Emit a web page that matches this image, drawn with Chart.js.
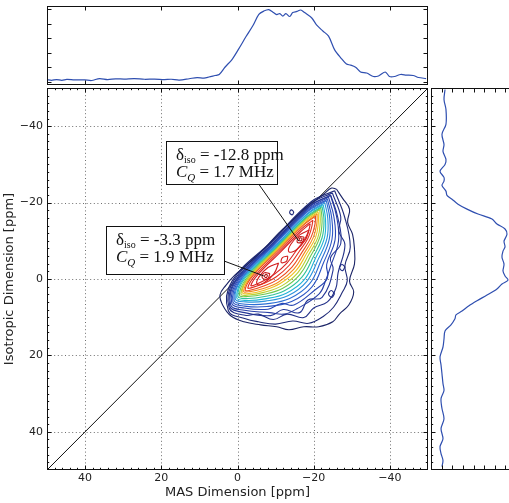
<!DOCTYPE html>
<html>
<head>
<meta charset="utf-8">
<script src="https://cdn.jsdelivr.net/npm/chart.js@4.4.0/dist/chart.umd.min.js"></script>
<style>
html, body { margin: 0; padding: 0; background: #fff; overflow: hidden; width: 509px; height: 503px; }
canvas { position: absolute; }
</style>
</head>
<body>
<canvas id="main" width="430" height="503" style="left:0;top:0"></canvas>
<canvas id="top" width="430" height="90" style="left:0;top:0"></canvas>
<canvas id="side" width="85" height="503" style="left:431px;top:0"></canvas>
<script>
// axis ticks (ppm)
const majorTicks = [-40, -20, 0, 20, 40];

// contour levels, [MAS ppm, isotropic ppm], outermost first
const lvl01 = [[-26.0,-23.5],[-27.6,-21.1],[-29.4,-18.3],[-28.9,-14.9],[-30.2,-11.7],[-30.7,-7.8],[-30.7,-3.9],[-29.4,0.5],[-30.5,3.4],[-29.2,6.8],[-26.8,9.1],[-25.0,11.2],[-21.3,12.5],[-17.4,12.5],[-13.5,13.3],[-10.3,12.5],[-6.1,12.0],[-1.7,11.2],[1.7,9.7],[3.8,7.0],[4.6,4.2],[3.0,1.6],[0.7,-1.0],[-3.0,-4.2],[-6.9,-7.8],[-10.8,-12.0],[-14.8,-15.7],[-18.7,-19.3],[-22.6,-22.2],[-24.7,-23.8]];
const lvl02 = [[-25.5,-23.1],[-28.1,-16.3],[-29.6,-8.4],[-28.2,-3.5],[-28.8,0.5],[-27.5,3.5],[-25.2,7.4],[-22.5,9.8],[-18.7,11.6],[-14.5,11.0],[-10.0,11.8],[-5.5,11.2],[-2.1,10.4],[2.4,8.3],[1.4,0.5],[-9.0,-9.9],[-19.4,-20.3]];
const lvl03 = [[-24.9,-22.5],[-27.1,-16.3],[-26.6,-12.5],[-28.2,-8.9],[-26.4,-1.6],[-25.8,2.5],[-23.6,6.0],[-20.0,7.6],[-17.4,10.1],[-13.0,9.2],[-9.4,10.6],[-5.5,9.2],[-2.0,9.5],[2.2,7.6],[0.9,0.3],[-9.1,-9.7],[-19.1,-19.7]];
const lvl04 = [[-24.5,-21.9],[-26.3,-16.2],[-27.1,-9.3],[-24.4,-5.5],[-25.1,-2.4],[-22.2,4.8],[-18.5,5.5],[-16.3,8.8],[-12.0,8.0],[-8.7,9.6],[-1.9,8.8],[2.0,7.2],[0.5,0.3],[-9.2,-9.4],[-18.9,-19.1]];
const lvl05 = [[-24.4,-21.9],[-26.0,-16.4],[-26.5,-9.9],[-24.4,-3.2],[-23.2,0.2],[-21.5,3.8],[-15.6,7.8],[-12.2,9.2],[-8.4,8.8],[-1.8,8.2],[1.8,6.8],[0.2,0.2],[-9.4,-9.4],[-19.0,-19.0]];
const lvl06 = [[-23.9,-21.4],[-25.3,-16.3],[-25.6,-10.2],[-23.4,-3.8],[-23.6,-0.2],[-20.4,2.8],[-14.8,6.8],[-11.5,6.4],[-8.0,7.9],[-1.8,7.6],[1.5,6.4],[-0.2,0.1],[-9.5,-9.2],[-18.8,-18.5]];
const lvl07 = [[-23.6,-20.9],[-24.7,-16.2],[-24.8,-10.4],[-22.6,-4.3],[-19.6,2.0],[-14.2,5.9],[-7.7,7.2],[-1.9,7.1],[1.2,6.0],[-0.6,0.0],[-9.6,-9.1],[-18.7,-18.1]];
const lvl08 = [[-23.3,-20.5],[-24.2,-16.0],[-24.1,-10.5],[-21.9,-4.8],[-18.9,1.3],[-13.7,5.1],[-7.5,6.5],[-2.1,6.6],[0.9,5.6],[-1.0,-0.1],[-9.7,-8.9],[-18.5,-17.7]];
const lvl09 = [[-22.9,-20.0],[-23.7,-15.8],[-23.5,-10.7],[-21.2,-5.2],[-18.2,0.6],[-13.2,4.4],[-7.3,5.8],[-2.2,6.0],[0.6,5.2],[-1.3,-0.2],[-9.9,-8.7],[-18.4,-17.2]];
const lvl10 = [[-22.5,-19.5],[-23.1,-15.6],[-22.8,-10.7],[-20.5,-5.5],[-17.6,0.1],[-12.8,3.7],[-7.2,5.2],[-2.3,5.6],[0.2,4.9],[-1.7,-0.3],[-10.0,-8.5],[-18.2,-16.8]];
const lvl11 = [[-22.2,-19.0],[-22.7,-15.3],[-22.2,-10.8],[-19.9,-5.8],[-16.9,-0.5],[-12.3,3.1],[-7.1,4.6],[-2.5,5.1],[-0.1,4.5],[-2.1,-0.4],[-10.1,-8.3],[-18.1,-16.3]];
const lvl12 = [[-21.9,-18.5],[-22.2,-15.1],[-21.6,-10.9],[-19.3,-6.2],[-16.3,-1.1],[-11.9,2.4],[-7.0,4.0],[-2.7,4.6],[-0.5,4.2],[-2.5,-0.4],[-10.2,-8.2],[-17.9,-15.9]];
const lvl13 = [[-21.6,-18.1],[-21.7,-14.9],[-21.1,-10.9],[-18.7,-6.4],[-15.8,-1.6],[-11.6,1.8],[-6.9,3.5],[-2.9,4.2],[-0.9,3.9],[-2.9,-0.5],[-10.3,-8.0],[-17.8,-15.5]];
const lvl14 = [[-21.2,-17.5],[-21.2,-14.6],[-20.5,-10.9],[-18.1,-6.6],[-15.3,-2.1],[-11.2,1.2],[-6.8,3.0],[-3.1,3.8],[-1.2,3.5],[-3.2,-0.6],[-10.4,-7.8],[-17.6,-15.0]];
const lvl15 = [[-20.9,-17.0],[-20.8,-14.4],[-19.9,-10.9],[-17.6,-6.9],[-14.8,-2.6],[-10.9,0.7],[-6.8,2.5],[-3.3,3.3],[-1.6,3.2],[-3.6,-0.7],[-10.5,-7.6],[-17.5,-14.5]];
const lvl16 = [[-20.5,-16.5],[-20.3,-14.1],[-19.3,-10.9],[-17.0,-7.1],[-14.3,-3.1],[-10.6,0.1],[-6.7,1.9],[-3.5,2.9],[-2.0,2.9],[-4.0,-0.8],[-10.6,-7.4],[-17.3,-14.1]];
const lvl17 = [[-19.8,-15.4],[-19.4,-13.3],[-18.4,-10.5],[-16.2,-7.2],[-13.6,-3.6],[-10.2,-0.6],[-6.8,1.2],[-4.0,2.2],[-2.7,2.3],[-4.7,-1.0],[-10.8,-7.1],[-16.8,-13.1]];
const lvl18 = [[-19.1,-14.5],[-18.7,-12.7],[-17.6,-10.3],[-15.4,-7.4],[-12.9,-4.1],[-9.9,-1.4],[-7.0,0.4],[-4.6,1.5],[-3.5,1.7],[-5.4,-1.2],[-11.0,-6.8],[-16.5,-12.3]];
const lvl19a = [[-18.8,-12.8],[-17.8,-10.2],[-15.4,-7.6],[-13.5,-7.1],[-14.0,-9.1],[-16.4,-11.6]];
const lvl19b = [[-10.8,-4.2],[-9.6,-1.4],[-7.0,1.0],[-5.2,1.4],[-5.6,-0.5],[-8.0,-3.0]];
const lvl19c = [[-13.2,-6.0],[-12.9,-4.7],[-11.5,-4.3],[-11.8,-5.6]];
const lvl20a = [[-17.5,-11.0],[-17.0,-9.7],[-15.7,-9.6],[-16.1,-11.0]];
const lvl20b = [[-8.5,-1.4],[-7.9,0.0],[-6.5,-0.3],[-7.0,-1.6]];
const lvl21a = [[-17.0,-10.6],[-16.7,-10.0],[-16.2,-10.2],[-16.5,-10.8]];
const lvl21b = [[-7.9,-1.0],[-7.6,-0.4],[-7.1,-0.6],[-7.4,-1.2]];
const island1 = [[-14.8,-17.6],[-14.4,-16.8],[-13.7,-17.3],[-14.1,-18.1]];
const island2 = [[-25.5,3.8],[-24.8,4.8],[-23.9,4.0],[-24.6,3.0]];
const island3 = [[-28.2,-3.2],[-27.6,-2.2],[-26.8,-2.9],[-27.4,-3.8]];

const contourSets = [lvl01, lvl02, lvl03, lvl04, lvl05, lvl06, lvl07, lvl08, lvl09, lvl10,
  lvl11, lvl12, lvl13, lvl14, lvl15, lvl16, lvl17, lvl18, lvl19a, lvl19b, lvl19c,
  lvl20a, lvl20b, lvl21a, lvl21b, island1, island2, island3];
const contourColors = ['#1b2466', '#1f2a78', '#223088', '#253797', '#283fa6', '#2a48b4', '#2c56c4', '#2c6fd4',
  '#2a92dc', '#22b4d6', '#30c29a', '#6cc850', '#b8d030', '#f0c020', '#f48a1e', '#ec4a1e',
  '#e23020', '#d82222', '#d01c1c', '#d01c1c', '#d01c1c', '#c41818', '#c41818', '#b01414', '#b01414',
  '#1f2a78', '#223088', '#223088'];

// diagonal (MAS = isotropic)
const diagonal = [[50, 50], [-50, -50]];

// F2 projection (top)
const topPpm = [50.0,48.8,47.5,46.1,44.8,42.8,40.1,38.3,36.2,34.1,32.0,29.7,27.1,24.4,21.8,19.2,17.4,15.3,12.7,10.6,8.8,7.5,5.9,4.8,3.3,1.4,-0.4,-2.2,-4.1,-5.6,-6.9,-8.2,-9.3,-10.3,-11.1,-11.9,-12.7,-13.7,-14.5,-15.6,-16.6,-17.6,-19.5,-20.8,-22.4,-23.9,-25.5,-27.1,-28.6,-29.7,-31.0,-32.3,-33.9,-35.7,-37.0,-38.8,-39.9,-41.2,-42.8,-44.3,-46.1,-47.5,-49.5];
const topInt = [0.03,0.02,0.03,0.02,0.033,0.026,0.026,0.017,0.044,0.03,0.04,0.037,0.044,0.034,0.037,0.03,0.034,0.023,0.041,0.058,0.051,0.065,0.086,0.1,0.2,0.31,0.46,0.62,0.78,0.93,0.975,0.996,0.96,0.927,0.94,0.906,0.94,0.9,0.954,0.97,0.99,0.954,0.88,0.78,0.7,0.63,0.44,0.33,0.244,0.23,0.2,0.134,0.12,0.072,0.08,0.134,0.072,0.072,0.1,0.092,0.086,0.058,0.044];

// F1 projection (right)
const sidePpm = [-49.6,-47.0,-44.4,-40.5,-37.9,-35.2,-33.4,-31.3,-30.0,-28.2,-26.6,-25.6,-24.5,-23.0,-21.9,-20.9,-19.6,-18.3,-17.0,-15.7,-14.4,-13.1,-11.7,-9.9,-8.4,-7.3,-5.7,-3.9,-2.1,-0.8,0.3,1.3,2.6,4.2,5.7,7.0,8.4,9.4,10.4,12.0,13.6,15.7,17.8,20.4,22.5,24.8,27.4,29.2,31.3,33.9,36.6,39.2,41.8,43.9,45.7,47.5,49.1];
const sideInt = [0.165,0.153,0.176,0.176,0.129,0.153,0.141,0.176,0.165,0.106,0.153,0.153,0.129,0.176,0.188,0.247,0.318,0.424,0.553,0.718,0.776,0.871,0.894,0.859,0.871,0.847,0.835,0.859,0.847,0.871,0.906,0.835,0.776,0.659,0.541,0.447,0.365,0.294,0.282,0.235,0.165,0.153,0.141,0.106,0.118,0.129,0.141,0.153,0.118,0.129,0.153,0.118,0.141,0.106,0.118,0.141,0.129];

const minorTicks = [];
for (let v = -48; v <= 48; v += 2) if (v % 20 !== 0) minorTicks.push(v);
const topIntTicks = [0, 0.2, 0.4, 0.6, 0.8, 1.0];
const sideIntTicks = [0, 0.125, 0.25, 0.375, 0.5, 0.625, 0.75, 0.875, 1.0];

const fmt = v => String(v).replace('-', '\u2212');
const ink = '#222';
const projColor = '#2f4fb0';

const frameTicks = {
  id: 'frameTicks',
  beforeDatasetsDraw(chart, args, o) {
    if (!o.grid) return;
    const { ctx, chartArea: a, scales: { x, y } } = chart;
    ctx.save();
    ctx.strokeStyle = '#6e6e6e';
    ctx.lineWidth = 1;
    ctx.setLineDash([1, 2.6]);
    ctx.beginPath();
    (o.xMajor || []).forEach(v => {
      const p = Math.round(x.getPixelForValue(v)) + 0.5;
      ctx.moveTo(p, a.top); ctx.lineTo(p, a.bottom);
    });
    (o.yMajor || []).forEach(v => {
      const p = Math.round(y.getPixelForValue(v)) + 0.5;
      ctx.moveTo(a.left, p); ctx.lineTo(a.right, p);
    });
    ctx.stroke();
    ctx.restore();
  },
  afterDatasetsDraw(chart, args, o) {
    const { ctx, chartArea: a, scales: { x, y } } = chart;
    ctx.save();
    ctx.strokeStyle = '#111';
    ctx.lineWidth = 1;
    ctx.beginPath();
    const tx = (vals, len) => vals.forEach(v => {
      const p = Math.round(x.getPixelForValue(v)) + 0.5;
      ctx.moveTo(p, a.top); ctx.lineTo(p, a.top + len);
      ctx.moveTo(p, a.bottom); ctx.lineTo(p, a.bottom - len);
    });
    const ty = (vals, len) => vals.forEach(v => {
      const p = Math.round(y.getPixelForValue(v)) + 0.5;
      ctx.moveTo(a.left, p); ctx.lineTo(a.left + len, p);
      ctx.moveTo(a.right, p); ctx.lineTo(a.right - len, p);
    });
    tx(o.xMajor || [], 4.5); tx(o.xMinor || [], 2.2);
    ty(o.yMajor || [], 4.5); ty(o.yMinor || [], 2.2);
    ctx.stroke();
    ctx.strokeRect(a.left + 0.5, a.top + 0.5, a.right - a.left - 1, a.bottom - a.top - 1);
    ctx.restore();
  }
};

const notes = {
  id: 'notes',
  afterDatasetsDraw(chart, args, o) {
    const { ctx, scales: { x, y } } = chart;
    ctx.save();
    o.items.forEach(n => {
      ctx.strokeStyle = '#111';
      ctx.lineWidth = 1;
      ctx.beginPath();
      ctx.moveTo(x.getPixelForValue(n.from[0]), y.getPixelForValue(n.from[1]));
      ctx.lineTo(x.getPixelForValue(n.to[0]), y.getPixelForValue(n.to[1]));
      ctx.stroke();
      const xa = Math.round(x.getPixelForValue(n.box[0])), xb = Math.round(x.getPixelForValue(n.box[2]));
      const ya = Math.round(y.getPixelForValue(n.box[1])), yb = Math.round(y.getPixelForValue(n.box[3]));
      const l = Math.min(xa, xb), t = Math.min(ya, yb), w = Math.abs(xb - xa), h = Math.abs(yb - ya);
      ctx.fillStyle = '#fff';
      ctx.fillRect(l, t, w, h);
      ctx.strokeRect(l + 0.5, t + 0.5, w, h);
      ctx.fillStyle = '#111';
      ctx.textBaseline = 'alphabetic';
      let cx = l + 10, by = t + 19;
      ctx.font = '17px "Liberation Serif"';
      ctx.fillText('\u03b4', cx, by); cx += ctx.measureText('\u03b4').width;
      ctx.font = '10px "Liberation Serif"';
      ctx.fillText('iso', cx, by + 3); cx += ctx.measureText('iso').width;
      ctx.font = '17px "Liberation Serif"';
      ctx.fillText(' = ' + n.shift + ' ppm', cx, by);
      cx = l + 10; by = t + 36;
      ctx.font = 'italic 17px "Liberation Serif"';
      ctx.fillText('C', cx, by); cx += ctx.measureText('C').width;
      ctx.font = 'italic 11px "Liberation Serif"';
      ctx.fillText('Q', cx, by + 4); cx += ctx.measureText('Q').width;
      ctx.font = '17px "Liberation Serif"';
      ctx.fillText(' = ' + n.cq + ' MHz', cx, by);
    });
    ctx.restore();
  }
};

const toPts = arr => arr.map(p => ({ x: p[0], y: p[1] }));
const closed = arr => toPts(arr.concat([arr[0]]));

const mainDatasets = contourSets.map((c, i) => ({
  data: closed(c), borderColor: contourColors[i], borderWidth: 1.1, tension: 0.4, showLine: true, pointRadius: 0
}));
mainDatasets.push({ data: toPts(diagonal), borderColor: '#111', borderWidth: 1, showLine: true, pointRadius: 0, tension: 0 });

const axisFont = { family: 'DejaVu Sans', size: 11 };
const titleFont = { family: 'DejaVu Sans', size: 13 };

new Chart(document.getElementById('main'), {
  type: 'scatter',
  data: { datasets: mainDatasets },
  options: {
    responsive: false, animation: false, devicePixelRatio: 1,
    layout: { padding: { top: 88, right: 2, left: 0, bottom: 0 } },
    plugins: {
      legend: { display: false }, tooltip: { enabled: false },
      frameTicks: { grid: true, xMajor: majorTicks, xMinor: minorTicks, yMajor: majorTicks, yMinor: minorTicks },
      notes: { items: [
        { shift: '-12.8', cq: '1.7', box: [18.7, -36.0, -10.3, -24.8], from: [-5.6, -24.8], to: [-16.1, -9.9] },
        { shift: '-3.3', cq: '1.9', box: [34.4, -13.8, 3.5, -1.2], from: [3.5, -4.7], to: [-6.9, -0.8] }
      ] }
    },
    scales: {
      x: {
        type: 'linear', reverse: true, min: -50, max: 50,
        grid: { display: false, drawTicks: false }, border: { display: false },
        afterBuildTicks: s => { s.ticks = majorTicks.map(v => ({ value: v })); },
        afterFit: s => { s.height = 33; },
        ticks: { callback: fmt, font: axisFont, color: ink, padding: 2, maxRotation: 0, autoSkip: false },
        title: { display: true, text: 'MAS Dimension [ppm]', font: titleFont, color: ink, padding: { top: 0, bottom: 3 } }
      },
      y: {
        type: 'linear', reverse: true, min: -50, max: 50,
        grid: { display: false, drawTicks: false }, border: { display: false },
        afterBuildTicks: s => { s.ticks = majorTicks.map(v => ({ value: v })); },
        afterFit: s => { s.width = 47; },
        ticks: { callback: fmt, font: axisFont, color: ink, padding: 4, autoSkip: false },
        title: { display: true, text: 'Isotropic Dimension [ppm]', font: titleFont, color: ink, padding: { top: 2, bottom: 0 } }
      }
    }
  },
  plugins: [frameTicks, notes]
});

new Chart(document.getElementById('top'), {
  type: 'scatter',
  data: { datasets: [{ data: topPpm.map((v, i) => ({ x: v, y: topInt[i] })), borderColor: projColor, borderWidth: 1.2, showLine: true, pointRadius: 0, tension: 0.3 }] },
  options: {
    responsive: false, animation: false, devicePixelRatio: 1,
    layout: { padding: { top: 6, right: 2, left: 47, bottom: 5 } },
    plugins: { legend: { display: false }, tooltip: { enabled: false },
      frameTicks: { xMajor: majorTicks, yMajor: topIntTicks } },
    scales: {
      x: { type: 'linear', reverse: true, min: -50, max: 50, display: false },
      y: { type: 'linear', min: -0.045, max: 1.045, display: false }
    }
  },
  plugins: [frameTicks]
});

new Chart(document.getElementById('side'), {
  type: 'scatter',
  data: { datasets: [{ data: sidePpm.map((v, i) => ({ x: sideInt[i], y: v })), borderColor: projColor, borderWidth: 1.2, showLine: true, pointRadius: 0, tension: 0.3 }] },
  options: {
    responsive: false, animation: false, devicePixelRatio: 1,
    layout: { padding: { top: 88, right: 0, left: 0, bottom: 33 } },
    plugins: { legend: { display: false }, tooltip: { enabled: false },
      frameTicks: { xMajor: sideIntTicks, yMajor: majorTicks, yMinor: minorTicks } },
    scales: {
      x: { type: 'linear', min: 0, max: 1, display: false },
      y: { type: 'linear', reverse: true, min: -50, max: 50, display: false }
    }
  },
  plugins: [frameTicks]
});
</script>
</body>
</html>
